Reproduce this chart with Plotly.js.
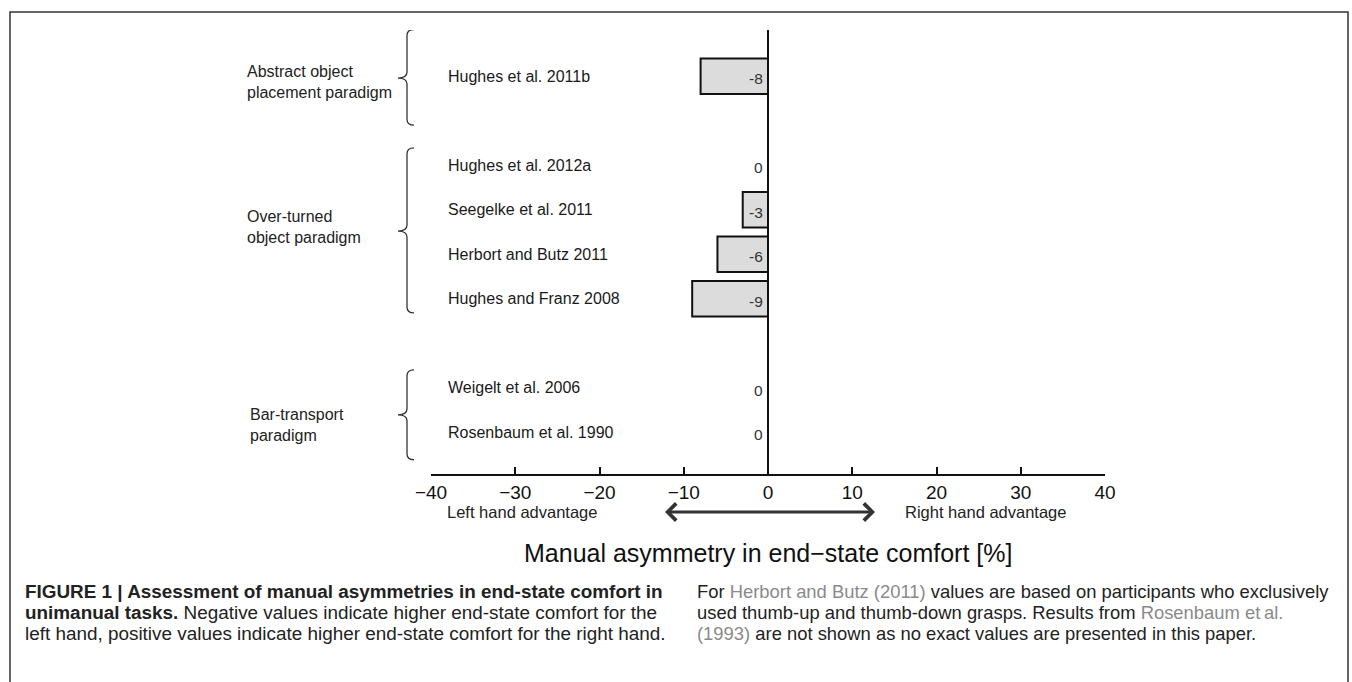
<!DOCTYPE html>
<html>
<head>
<meta charset="utf-8">
<script src="https://cdn.plot.ly/plotly-3.0.1.min.js"></script>
<style>
  html, body { margin: 0; padding: 0; background: #fff; }
  #chart { width: 1352px; height: 682px; }
</style>
</head>
<body>
<div id="chart"></div>
<script>
// ---- data ----
const studies = ['Hughes et al. 2011b', 'Hughes et al. 2012a', 'Seegelke et al. 2011',
  'Herbort and Butz 2011', 'Hughes and Franz 2008', 'Weigelt et al. 2006', 'Rosenbaum et al. 1990'];
const values = [-8, 0, -3, -6, -9, 0, 0];
const rowIndex = [8, 6, 5, 4, 3, 1, 0];
const groupNames = ['Abstract object<br>placement paradigm', 'Over-turned<br>object paradigm', 'Bar-transport<br>paradigm'];
const groupMembers = [[0], [1, 2, 3, 4], [5, 6]];
const xTickVals = [-40, -30, -20, -10, 0, 10, 20, 30, 40];
const xTitle = 'Manual asymmetry in end\u2212state comfort [%]';
const leftLabel = 'Left hand advantage';
const rightLabel = 'Right hand advantage';
const captionLeftLines = [
  '<b>FIGURE 1 | Assessment of manual asymmetries in end-state comfort in</b>',
  '<b>unimanual tasks.</b> Negative values indicate higher end-state comfort for the',
  'left hand, positive values indicate higher end-state comfort for the right hand.'
];
const captionRightLines = [
  'For <span style="color:#8a8a8a">Herbort and Butz (2011)</span> values are based on participants who exclusively',
  'used thumb-up and thumb-down grasps. Results from <span style="color:#8a8a8a">Rosenbaum et\u2009al.</span>',
  '<span style="color:#8a8a8a">(1993)</span> are not shown as no exact values are presented in this paper.'
];

// ---- layout geometry (pixels) ----
const W = 1352, H = 682;
const L = 431, R = 1105, T = 30, B = 474;
const pw = R - L, ph = B - T;
const px2paperX = p => (p - L) / pw;
const px2paperY = p => (B - p) / ph;
const yRange = [-0.94, 9.04];
const slotPx = ph / (yRange[1] - yRange[0]);

const FONT = 'Liberation Sans, Arial, Helvetica, sans-serif';

// brace extents in row units and label offsets
const braceExt = [[1.05, 1.1], [0.39, 0.32], [0.40, 0.62]];
const braceTip = [-0.04, 0.02, -0.11];
const labelOff = [-0.13, 0.11, -0.34];

const shapes = [];
const annotations = [];

// study labels + value labels
studies.forEach((s, i) => {
  annotations.push({
    xref: 'paper', yref: 'y', x: px2paperX(446), y: rowIndex[i],
    xanchor: 'left', yanchor: 'middle', showarrow: false, text: s,
    font: {family: FONT, size: 16, color: '#1a1a1a'}
  });
  annotations.push({
    xref: 'x', yref: 'y', x: 0, y: rowIndex[i], xshift: -3, yshift: -2.5,
    xanchor: 'right', yanchor: 'middle', showarrow: false, text: String(values[i]),
    font: {family: FONT, size: 15.5, color: '#333'}
  });
});

// braces and group labels
const xb = px2paperX(407), xt = px2paperX(398), xr = px2paperX(414);
const d = 6 / slotPx;
groupMembers.forEach((m, g) => {
  const slots = m.map(i => rowIndex[i]);
  const hi = Math.max(...slots), lo = Math.min(...slots);
  const yt = hi + braceExt[g][0], yb = lo - braceExt[g][1];
  const ym = (hi + lo) / 2 + braceTip[g];
  const path = `M${xr},${yt} Q${xb},${yt} ${xb},${yt - d} L${xb},${ym + d} Q${xb},${ym} ${xt},${ym} ` +
    `Q${xb},${ym} ${xb},${ym - d} L${xb},${yb + d} Q${xb},${yb} ${xr},${yb}`;
  shapes.push({type: 'path', xref: 'paper', yref: 'y', path: path,
    line: {color: '#333', width: 1.3}});
  annotations.push({
    xref: 'paper', yref: 'y', x: px2paperX(g === 2 ? 248 : 245), y: (hi + lo) / 2 + labelOff[g],
    xanchor: 'left', yanchor: 'middle', align: 'left', showarrow: false, text: groupNames[g],
    font: {family: FONT, size: 16, color: '#222'}
  });
});

// left/right labels and arrow
annotations.push({xref: 'x', yref: 'paper', x: -29.2, y: px2paperY(512), showarrow: false,
  text: leftLabel, xanchor: 'center', yanchor: 'middle', font: {family: FONT, size: 16.5, color: '#222'}});
annotations.push({xref: 'x', yref: 'paper', x: 25.8, y: px2paperY(512), showarrow: false,
  text: rightLabel, xanchor: 'center', yanchor: 'middle', font: {family: FONT, size: 16.5, color: '#222'}});
annotations.push({xref: 'x', yref: 'paper', x: 12.7, y: px2paperY(512), axref: 'x', ax: -12.4, ay: 0,
  text: '', showarrow: true, arrowhead: 4, arrowside: 'end+start', arrowsize: 1.1, arrowwidth: 3,
  arrowcolor: '#333', standoff: 0, startstandoff: 0});

// axis title
annotations.push({xref: 'paper', yref: 'paper', x: 0.5, y: px2paperY(553), showarrow: false,
  text: xTitle, xanchor: 'center', yanchor: 'middle', font: {family: FONT, size: 25, color: '#111'}});

// caption (one annotation per line to keep the tight line spacing)
captionLeftLines.forEach((t, k) => {
  annotations.push({xref: 'paper', yref: 'paper', x: px2paperX(23), y: px2paperY(591 + 21 * k),
    showarrow: false, text: t, xanchor: 'left', yanchor: 'middle', align: 'left',
    font: {family: FONT, size: 18.9, color: '#222'}});
});
captionRightLines.forEach((t, k) => {
  annotations.push({xref: 'paper', yref: 'paper', x: px2paperX(695), y: px2paperY(591 + 21 * k),
    showarrow: false, text: t, xanchor: 'left', yanchor: 'middle', align: 'left',
    font: {family: FONT, size: 18.4, color: '#222'}});
});

// frame
shapes.push({type: 'rect', xref: 'paper', yref: 'paper', x0: px2paperX(10), x1: px2paperX(1348),
  y0: px2paperY(700), y1: px2paperY(12), line: {color: '#333', width: 1.5}, fillcolor: 'rgba(0,0,0,0)'});

const trace = {
  type: 'bar', orientation: 'h', x: values, y: rowIndex, width: 0.8,
  marker: {color: '#dcdcdc', line: {color: '#111', width: 2}},
  hoverinfo: 'skip'
};

const layout = {
  width: W, height: H,
  margin: {l: L, r: W - R, t: T, b: H - B, pad: 0},
  paper_bgcolor: '#fff', plot_bgcolor: '#fff',
  showlegend: false,
  xaxis: {
    range: [-40, 40], tickvals: xTickVals, ticks: 'inside', ticklen: 7, tickwidth: 2, tickcolor: '#111',
    showline: true, linewidth: 2, linecolor: '#111', showgrid: false,
    zeroline: true, zerolinewidth: 2, zerolinecolor: '#111',
    tickfont: {family: FONT, size: 19, color: '#111'}, fixedrange: true
  },
  yaxis: {
    range: yRange, showticklabels: false, ticks: '', showline: false, showgrid: false, zeroline: false,
    fixedrange: true
  },
  shapes: shapes,
  annotations: annotations
};

Plotly.newPlot('chart', [trace], layout, {displayModeBar: false, staticPlot: true});
</script>
</body>
</html>
